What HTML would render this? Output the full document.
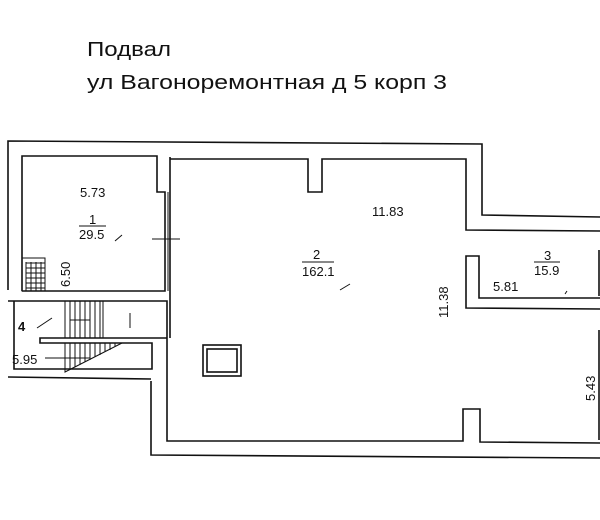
<!DOCTYPE html>
<html><head><meta charset="utf-8"><style>
html,body{margin:0;padding:0;background:#fff}
svg{display:block}
text{font-family:"Liberation Sans",Arial,sans-serif;fill:#111}
</style></head><body>
<svg width="600" height="520" viewBox="0 0 600 520" xmlns="http://www.w3.org/2000/svg">
<text x="87" y="56" font-size="20" textLength="84" lengthAdjust="spacingAndGlyphs">Подвал</text>
<text x="87" y="89" font-size="20" textLength="360" lengthAdjust="spacingAndGlyphs">ул Вагоноремонтная д 5 корп 3</text>
<g fill="none" stroke="#111" stroke-width="1.6">
<polyline points="8,290 8,141 482,144 482,215 600,217"/>
<polyline points="22,291 22,156 157,156 157,192 165,192 165,291 22,291"/>
<polyline points="170,157 170,338"/>
<polyline points="170,159 308,159 308,192 322,192 322,159 466,159 466,230 600,231"/>
<polyline points="600,298 479,298 479,256 466,256 466,308 600,309"/>
<polyline points="167,338 167,441 463,441 463,409 480,409 480,442 600,443"/>
<polyline points="151,381 151,455 600,458"/>
<line x1="599" y1="250" x2="599" y2="296"/>
<line x1="599" y1="330" x2="599" y2="440"/>
<polyline points="8,301 167,301 167,338"/>
<polyline points="14,301 14,369 152,369 152,343 40,343 40,338 167,338"/>
<polyline points="8,377 151,379"/>
<rect x="203" y="345" width="38" height="31"/>
<rect x="207" y="349" width="30" height="23"/>
</g>
<g stroke="#111" stroke-width="1" fill="none">
<rect x="22" y="258" width="23" height="33"/>
<path d="M26,263H45M26,268H45M26,273H45M26,278H45M26,283H45M26,288H45M26,262V291M31,262V291M36,262V291M41,262V291"/>
<path d="M65,301V338M70,301V338M75,301V338M80,301V338M85,301V338M90,301V338M95,301V338M100,301V338M103,301V338"/>
<path d="M65,343V372L122,343M70,343V370M75,343V367M80,343V365M85,343V362M90,343V360M95,343V357M100,343V355M105,343V352M110,343V350M115,343V347"/>
<path d="M45,358H90M70,320H90"/>
<path d="M152,239H180M165,225V255M168,192V291"/>
<path d="M130,313V328"/>
<path d="M115,241l7,-6M340,290l10,-6M37,328l15,-10M565,294l2,-3"/>
</g>
<g font-size="13">
<text x="80" y="197">5.73</text>
<text x="89" y="224">1</text>
<line x1="79" y1="226" x2="106" y2="226" stroke="#111"/>
<text x="79" y="239">29.5</text>
<text x="0" y="0" transform="translate(70,287) rotate(-90)">6.50</text>
<text x="372" y="216">11.83</text>
<text x="313" y="259">2</text>
<line x1="302" y1="262" x2="334" y2="262" stroke="#111"/>
<text x="302" y="276">162.1</text>
<text x="0" y="0" transform="translate(448,318) rotate(-90)">11.38</text>
<text x="544" y="260">3</text>
<line x1="534" y1="262" x2="560" y2="262" stroke="#111"/>
<text x="534" y="275">15.9</text>
<text x="493" y="291">5.81</text>
<text x="18" y="331" font-weight="bold">4</text>
<text x="12" y="364">5.95</text>
<text x="0" y="0" transform="translate(595,401) rotate(-90)">5.43</text>
</g>
</svg>
</body></html>
